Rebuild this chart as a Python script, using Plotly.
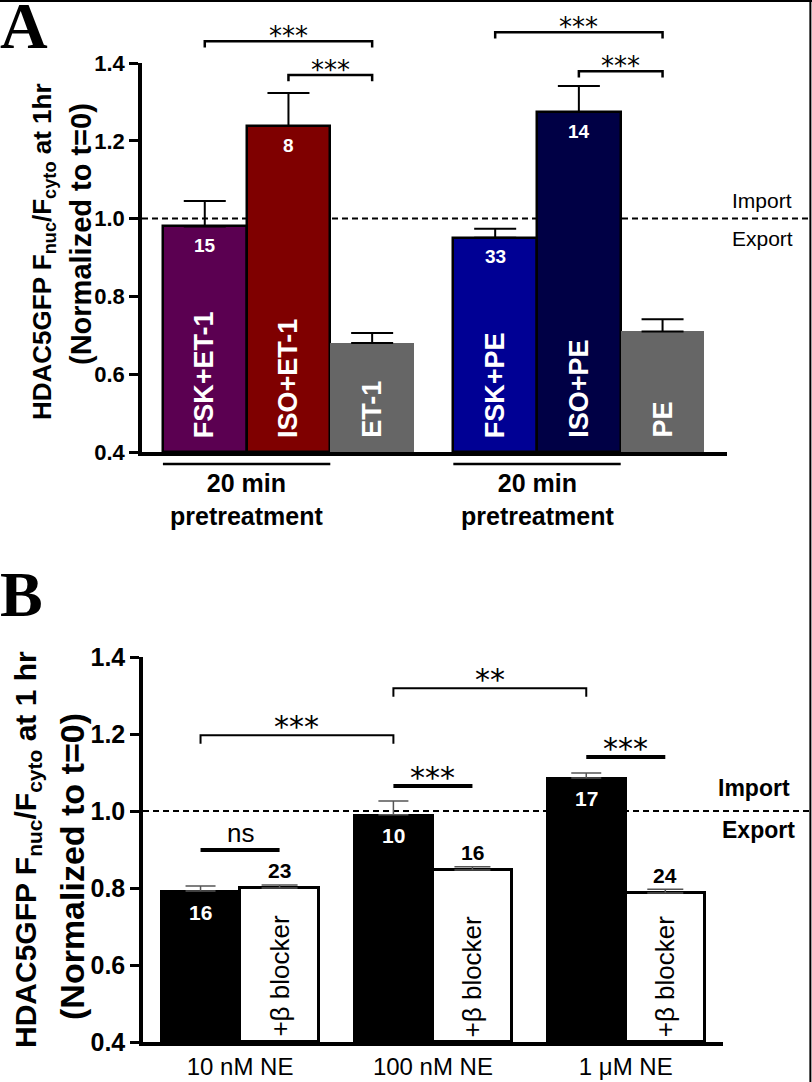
import plotly.graph_objects as go

W, H = 812, 1082

# ---------------- Panel A data ----------------
a_labels = ["FSK+ET-1", "ISO+ET-1", "ET-1", "FSK+PE", "ISO+PE", "PE"]
a_values = [0.980, 1.238, 0.680, 0.951, 1.274, 0.710]
a_errors = [0.065, 0.085, 0.026, 0.023, 0.067, 0.031]
a_counts = ["15", "8", "", "33", "14", ""]
a_groups = [0, 0, 0, 1, 1, 1]
a_colors = ["#5b0051", "#7f0000", "#666666", "#000094", "#000045", "#666666"]
a_outlined = [True, True, False, True, True, False]
# significance brackets: (bar i, bar j, level, label)
a_sig = [(0, 2, 1.456, "***"), (1, 2, 1.369, "***"),
         (3, 5, 1.479, "***"), (4, 5, 1.379, "***")]
a_pretreat = [(0, 1), (3, 4)]
a_pretreat_text = "20 min<br>pretreatment"

# ---------------- Panel B data ----------------
b_categories = ["10 nM NE", "100 nM NE", "1 μM NE"]
b_ne_values = [0.792, 0.990, 1.086]
b_ne_errors = [0.013, 0.036, 0.013]
b_ne_counts = ["16", "10", "17"]
b_blk_values = [0.800, 0.847, 0.787]
b_blk_errors = [0.008, 0.008, 0.010]
b_blk_counts = ["23", "16", "24"]
b_blk_label = "+β blocker"
# brackets between NE bars of two groups: (group i, group j, level, label)
b_brackets = [(0, 1, 1.197, "***"), (1, 2, 1.319, "**")]
# flat lines within a group (NE vs blocker): (group, level, label)
b_lines = [(0, 0.899, "ns"), (1, 1.065, "***"), (2, 1.140, "***")]

yticks = [0.4, 0.6, 0.8, 1.0, 1.2, 1.4]

# ---------------- layout geometry ----------------
A_XD = [142 / W, 727 / W]
A_YD = [1 - 452 / H, 1 - 63 / H]
B_XD = [143 / W, 723 / W]
B_YD = [1 - 1042 / H, 1 - 657 / H]
YR = [0.4, 1.4]
A_GROUP_STEP = 3.47
B_GROUP_STEP = 2.44
A_XR = [-0.75, 6.24]
B_XR = [-0.728, 6.61]

FONT = "Liberation Sans"


def to_paper(v, rng, dom):
    return dom[0] + (v - rng[0]) / (rng[1] - rng[0]) * (dom[1] - dom[0])


def ya(v):
    return to_paper(v, YR, A_YD)


a_x = []
counter = {}
for g in a_groups:
    k = counter.get(g, 0)
    a_x.append(g * A_GROUP_STEP + k)
    counter[g] = k + 1

b_ne_x = [g * B_GROUP_STEP for g in range(len(b_categories))]
b_blk_x = [g * B_GROUP_STEP + 1 for g in range(len(b_categories))]
b_tick_x = [g * B_GROUP_STEP + 0.5 for g in range(len(b_categories))]

fig = go.Figure()

# Panel A bars
fig.add_trace(go.Bar(
    x=a_x, y=[v - YR[0] for v in a_values], base=YR[0], width=1,
    marker=dict(color=a_colors,
                line=dict(color="black", width=[2.5 if o else 0 for o in a_outlined])),
    error_y=dict(type="data", symmetric=False, array=a_errors,
                 arrayminus=[0] * len(a_errors), color="black", thickness=2, width=21),
    xaxis="x", yaxis="y", showlegend=False, hoverinfo="skip",
))

# Panel B bars
fig.add_trace(go.Bar(
    x=b_ne_x, y=[v - YR[0] for v in b_ne_values], base=YR[0], width=1,
    marker=dict(color="black", line=dict(color="black", width=2)),
    error_y=dict(type="data", symmetric=False, array=b_ne_errors,
                 arrayminus=[0] * 3, color="#555555", thickness=1.5, width=15),
    xaxis="x2", yaxis="y2", showlegend=False, hoverinfo="skip",
))
fig.add_trace(go.Bar(
    x=b_blk_x, y=[v - YR[0] for v in b_blk_values], base=YR[0], width=1,
    marker=dict(color="white", line=dict(color="black", width=3)),
    error_y=dict(type="data", symmetric=False, array=b_blk_errors,
                 arrayminus=[0] * 3, color="#555555", thickness=1.5, width=18),
    xaxis="x2", yaxis="y2", showlegend=False, hoverinfo="skip",
))

shapes = []
annotations = []


def ann(**kw):
    kw.setdefault("showarrow", False)
    kw.setdefault("xanchor", "center")
    kw.setdefault("yanchor", "middle")
    annotations.append(kw)


# dashed reference lines at 1.0
for xd, yref in [(A_XD, "y"), (B_XD, "y2")]:
    shapes.append(dict(type="line", xref="paper", yref=yref, x0=xd[0], x1=1.0,
                       y0=1.0, y1=1.0, layer="below",
                       line=dict(color="black", width=2, dash="6px,4px")))

# Panel A brackets
for i, j, lev, lab in a_sig:
    x0, x1 = a_x[i], a_x[j]
    yl, yt = ya(lev), ya(lev - 0.016)
    shapes.append(dict(type="path", xref="x", yref="paper",
                       path=f"M {x0},{yt} L {x0},{yl} L {x1},{yl} L {x1},{yt}",
                       line=dict(color="black", width=2.5)))
    ann(xref="x", yref="paper", x=(x0 + x1) / 2, y=yl, yanchor="bottom", yshift=-12,
        text=lab, font=dict(family="DejaVu Sans", size=26, color="black"))

# pretreatment lines/text
for i, j in a_pretreat:
    x0, x1 = a_x[i] - 0.5, a_x[j] + 0.5
    yl = ya(0.4 - 12 / 389)
    shapes.append(dict(type="line", xref="x", yref="paper", x0=x0, x1=x1, y0=yl, y1=yl,
                       line=dict(color="black", width=2.5)))
    ann(xref="x", yref="paper", x=(x0 + x1) / 2, y=yl, yanchor="top", yshift=-3,
        text=a_pretreat_text,
        font=dict(family=FONT, size=25, color="black", weight="bold"))

# Panel A in-bar labels
for x, v, lab, cnt in zip(a_x, a_values, a_labels, a_counts):
    ann(xref="x", yref="y", x=x, y=YR[0], yanchor="bottom", yshift=12, textangle=-90,
        text=lab, font=dict(family=FONT, size=27, color="white", weight="bold"))
    if cnt:
        ann(xref="x", yref="y", x=x, y=v, yshift=-19, text=cnt,
            font=dict(family=FONT, size=19, color="white", weight="bold"))

# Panel A Import / Export
ann(xref="paper", yref="y", x=762 / W, y=1.046, text="Import",
    font=dict(family=FONT, size=21, color="black"))
ann(xref="paper", yref="y", x=762 / W, y=0.949, text="Export",
    font=dict(family=FONT, size=21, color="black"))

# Panel B brackets
for gi, gj, lev, lab in b_brackets:
    x0, x1 = b_ne_x[gi], b_ne_x[gj]
    shapes.append(dict(type="path", xref="x2", yref="y2",
                       path=f"M {x0},{lev - 0.022} L {x0},{lev} L {x1},{lev} L {x1},{lev - 0.022}",
                       line=dict(color="black", width=2)))
    ann(xref="x2", yref="y2", x=(x0 + x1) / 2, y=lev, yanchor="bottom", yshift=-11,
        text=lab, font=dict(family="DejaVu Sans", size=30, color="black"))
for g, lev, lab in b_lines:
    x0, x1 = b_ne_x[g], b_blk_x[g]
    shapes.append(dict(type="line", xref="x2", yref="y2", x0=x0, x1=x1, y0=lev, y1=lev,
                       line=dict(color="black", width=4)))
    if lab == "ns":
        f = dict(family=FONT, size=26, color="black")
        ys = 0
    else:
        f = dict(family="DejaVu Sans", size=30, color="black")
        ys = -11
    ann(xref="x2", yref="y2", x=(x0 + x1) / 2, y=lev, yanchor="bottom", yshift=ys,
        text=lab, font=f)

# Panel B counts and blocker labels
for x, v, cnt in zip(b_ne_x, b_ne_values, b_ne_counts):
    ann(xref="x2", yref="y2", x=x, y=v, yshift=-21, text=cnt,
        font=dict(family=FONT, size=21, color="white", weight="bold"))
for x, v, e, cnt in zip(b_blk_x, b_blk_values, b_blk_errors, b_blk_counts):
    ann(xref="x2", yref="y2", x=x, y=v + e, yshift=14, text=cnt,
        font=dict(family=FONT, size=21, color="black", weight="bold"))
    ann(xref="x2", yref="y2", x=x, y=YR[0], yanchor="bottom", yshift=3, textangle=-90,
        text=b_blk_label, font=dict(family=FONT, size=26, color="black"))

ann(xref="paper", yref="y2", x=754 / W, y=1.06, text="Import",
    font=dict(family=FONT, size=23, color="black", weight="bold"))
ann(xref="paper", yref="y2", x=758 / W, y=0.951, text="Export",
    font=dict(family=FONT, size=23, color="black", weight="bold"))

# Y-axis titles
ytitle_a1 = "HDAC5GFP F<sub>nuc</sub>/F<sub>cyto</sub> at 1hr"
ytitle_b1 = "HDAC5GFP F<sub>nuc</sub>/F<sub>cyto</sub> at 1 hr"
ytitle_2 = "(Normalized to t=0)"
for txt, x, y, s in [(ytitle_a1, 43, 252, 26), (ytitle_2, 81, 234, 29),
                     (ytitle_b1, 27, 850, 30), (ytitle_2, 72, 867, 34)]:
    ann(xref="paper", yref="paper", x=x / W, y=1 - y / H, textangle=-90, text=txt,
        font=dict(family=FONT, size=s, color="black", weight="bold"))

# panel letters
ann(xref="paper", yref="paper", x=24 / W, y=1 - 26 / H, text="A",
    font=dict(family="Liberation Serif", size=66, color="black", weight="bold"))
ann(xref="paper", yref="paper", x=21 / W, y=1 - 594 / H, text="B",
    font=dict(family="Liberation Serif", size=64, color="black", weight="bold"))

# image border (top and right)
shapes.append(dict(type="line", xref="paper", yref="paper", x0=0, x1=1, y0=0.999, y1=0.999,
                   line=dict(color="black", width=2)))
shapes.append(dict(type="line", xref="paper", yref="paper", x0=0.998, x1=0.998, y0=0, y1=1,
                   line=dict(color="black", width=2)))

yaxis_common = dict(range=YR, tickvals=yticks, ticktext=[f"{t:.1f}" for t in yticks],
                    showgrid=False, zeroline=False, showline=True, linecolor="black",
                    linewidth=3.5, ticks="outside", ticklen=9, tickwidth=3, tickcolor="black",
                    automargin=False, fixedrange=True)
xaxis_common = dict(showgrid=False, zeroline=False, showline=True, linecolor="black",
                    linewidth=3.5, ticks="", automargin=False, fixedrange=True)

fig.update_layout(
    width=W, height=H, autosize=False, margin=dict(l=0, r=0, t=0, b=0, pad=0),
    paper_bgcolor="white", plot_bgcolor="white",
    font=dict(family=FONT, color="black"),
    bargap=0, showlegend=False,
    xaxis=dict(domain=A_XD, range=A_XR, showticklabels=False, anchor="y", **xaxis_common),
    yaxis=dict(domain=A_YD, anchor="x",
               tickfont=dict(family=FONT, size=22, color="black", weight="bold"),
               **yaxis_common),
    xaxis2=dict(domain=B_XD, range=B_XR, tickvals=b_tick_x, ticktext=b_categories,
                ticklabelstandoff=0, tickfont=dict(family=FONT, size=24, color="black"),
                anchor="y2", **xaxis_common),
    yaxis2=dict(domain=B_YD, anchor="x2",
                tickfont=dict(family=FONT, size=25, color="black", weight="bold"),
                **yaxis_common),
    shapes=shapes, annotations=annotations,
)

fig.write_html("out.html", config={"displayModeBar": False},
               post_script="document.body.style.margin='0px';")
